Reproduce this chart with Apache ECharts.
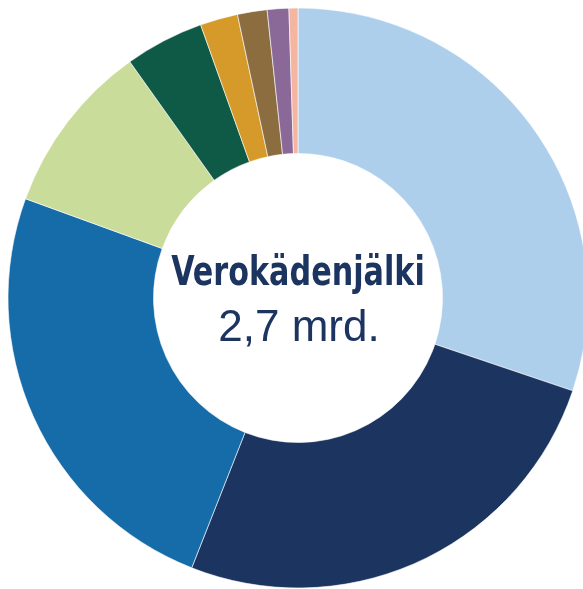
<!DOCTYPE html>
<html>
<head>
<meta charset="utf-8">
<script src="https://cdn.jsdelivr.net/npm/echarts@6/dist/echarts.min.js"></script>
<style>
  html, body { margin: 0; padding: 0; background: #fff; }
  #chart { width: 583px; height: 589px; }
</style>
</head>
<body>
<div id="chart"></div>
<script>
// osuudet (%) myötäpäivään klo 12:sta alkaen
const sliceNames = ['A', 'B', 'C', 'D', 'E', 'F', 'G', 'H', 'I']
const sliceValues = [30.2, 25.8, 24.6, 9.6, 4.4, 2.1, 1.65, 1.2, 0.5]
const sliceColors = ['#aecfec', '#1c3560', '#166ba9', '#c9dc9a', '#0f5947', '#d59a29', '#8b6d40', '#8a6999', '#f4b6a1']
const centerTitle = 'Verokädenjälki'
const centerValue = '2,7 mrd.'

const myChart = echarts.init(document.getElementById('chart'))
const pieData = []
for (let i = 0; i < sliceValues.length; i++) {
  pieData.push({
    name: sliceNames[i],
    value: sliceValues[i],
    itemStyle: { color: sliceColors[i] }
  })
}
const options = {
  animation: false,
  series: [{
    type: 'pie',
    center: [298, 298],
    radius: [144.5, 290],
    startAngle: 90,
    clockwise: true,
    label: { show: false },
    labelLine: { show: false },
    emphasis: { disabled: true },
    itemStyle: { borderColor: '#fff', borderWidth: 0.6 },
    data: pieData
  }],
  graphic: [
    {
      type: 'text',
      z: 100,
      x: 298,
      y: 275,
      scaleX: 0.84,
      style: {
        text: centerTitle,
        fill: '#1c3560',
        font: 'bold 40px "Liberation Sans Narrow", "DejaVu Sans Condensed", sans-serif',
        textAlign: 'center',
        textVerticalAlign: 'middle'
      }
    },
    {
      type: 'text',
      z: 100,
      x: 299,
      y: 329,
      style: {
        text: centerValue,
        fill: '#1c3560',
        font: '44px "Liberation Sans", Arial, sans-serif',
        textAlign: 'center',
        textVerticalAlign: 'middle'
      }
    }
  ]
}
myChart.setOption(options)
window.onresize = myChart.resize
</script>
</body>
</html>
